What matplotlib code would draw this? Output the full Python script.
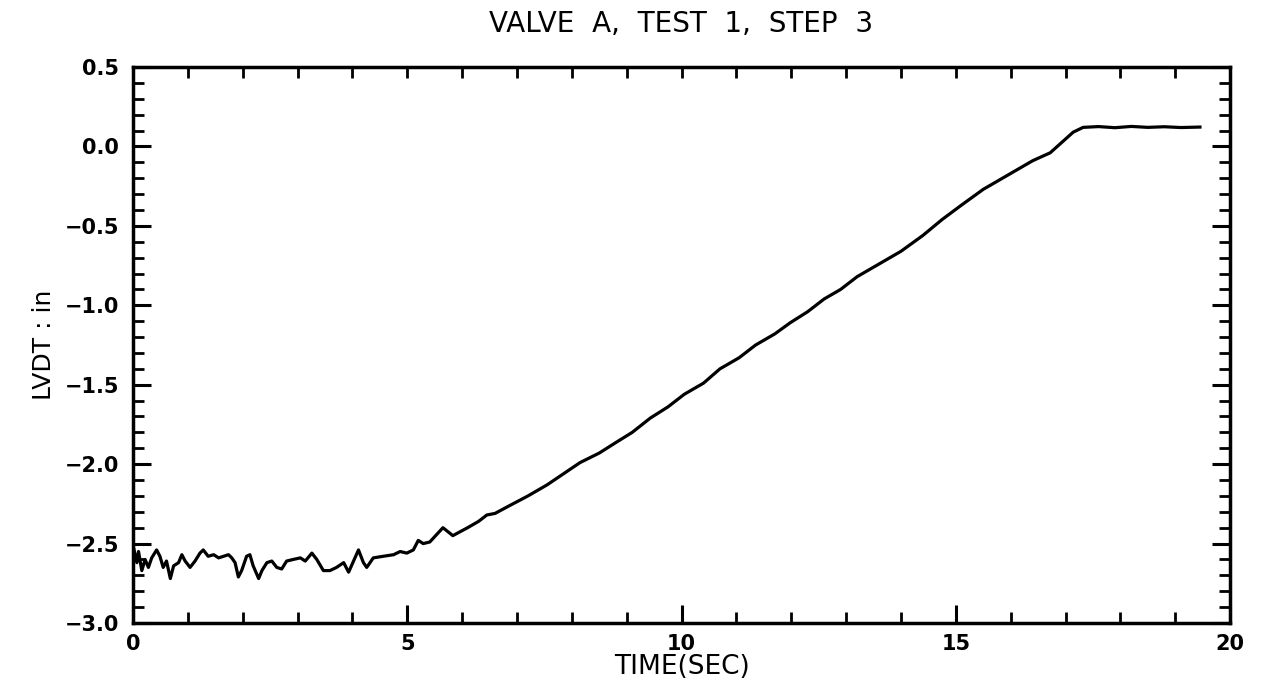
import matplotlib.pyplot as plt
import matplotlib.ticker as mticker

# LVDT trace: noisy baseline, ramp, then plateau
noise_time = [0.00, 0.07, 0.10, 0.16, 0.22, 0.28, 0.34, 0.43, 0.49, 0.55,
              0.61, 0.68, 0.74, 0.83, 0.89, 0.95, 1.04, 1.13, 1.22, 1.28,
              1.37, 1.47, 1.56, 1.65, 1.74, 1.80, 1.86, 1.92, 1.98, 2.07,
              2.13, 2.19, 2.29, 2.35, 2.44, 2.53, 2.62, 2.71, 2.80, 2.92,
              3.05, 3.14, 3.26, 3.35, 3.47, 3.59, 3.71, 3.84, 3.93, 4.02,
              4.11, 4.20, 4.26, 4.38, 4.56, 4.75, 4.87, 4.99, 5.11, 5.20,
              5.29, 5.41]
noise_lvdt = [-2.51, -2.62, -2.55, -2.67, -2.60, -2.65, -2.59, -2.54, -2.58, -2.65,
              -2.61, -2.72, -2.64, -2.62, -2.57, -2.61, -2.65, -2.61, -2.56, -2.54,
              -2.58, -2.57, -2.59, -2.58, -2.57, -2.59, -2.62, -2.71, -2.67, -2.58,
              -2.57, -2.64, -2.72, -2.67, -2.62, -2.61, -2.65, -2.66, -2.61, -2.60,
              -2.59, -2.61, -2.56, -2.60, -2.67, -2.67, -2.65, -2.62, -2.68, -2.61,
              -2.54, -2.62, -2.65, -2.59, -2.58, -2.57, -2.55, -2.56, -2.54, -2.48,
              -2.50, -2.49]

ramp_time = [5.65, 5.83, 6.10, 6.30, 6.45, 6.60, 6.87, 7.20, 7.55, 7.85,
             8.15, 8.50, 8.82, 9.10, 9.43, 9.75, 10.05, 10.40, 10.70, 11.05,
             11.35, 11.70, 11.98, 12.30, 12.60, 12.90, 13.20, 13.60, 14.00,
             14.40, 14.75, 15.10, 15.50, 15.80, 16.10, 16.40, 16.72, 17.14, 17.32]
ramp_lvdt = [-2.40, -2.45, -2.40, -2.36, -2.32, -2.31, -2.26, -2.20, -2.13, -2.06,
             -1.99, -1.93, -1.86, -1.80, -1.71, -1.64, -1.56, -1.49, -1.40, -1.33,
             -1.25, -1.18, -1.11, -1.04, -0.96, -0.90, -0.82, -0.74, -0.66,
             -0.56, -0.46, -0.37, -0.27, -0.21, -0.15, -0.09, -0.04, 0.09, 0.12]

flat_time = [17.60, 17.90, 18.20, 18.50, 18.80, 19.10, 19.45]
flat_lvdt = [0.125, 0.118, 0.126, 0.120, 0.124, 0.119, 0.122]

time = noise_time + ramp_time + flat_time
lvdt = noise_lvdt + ramp_lvdt + flat_lvdt

fig = plt.figure(figsize=(12.61, 6.93), dpi=100)
ax = fig.add_axes([0.1055, 0.101, 0.87, 0.8023])

ax.plot(time, lvdt, color='black', linewidth=2.3)

ax.set_xlim(0, 20)
ax.set_ylim(-3.0, 0.5)
ax.xaxis.set_major_locator(mticker.MultipleLocator(5))
ax.xaxis.set_minor_locator(mticker.MultipleLocator(1))
ax.yaxis.set_major_locator(mticker.MultipleLocator(0.5))
ax.yaxis.set_minor_locator(mticker.MultipleLocator(0.1))
ax.xaxis.remove_overlapping_locs = False
ax.xaxis.set_major_formatter(mticker.FormatStrFormatter('%d'))
ax.yaxis.set_major_formatter(
    mticker.FuncFormatter(lambda v, p: f'{v:.1f}'.replace('-', '\u2212')))

for side in ax.spines.values():
    side.set_linewidth(2.5)

ax.tick_params(which='major', direction='in', length=13, width=2.2,
               left=True, right=True, bottom=True, top=False,
               labelsize=15, pad=8)
ax.tick_params(which='minor', direction='in', length=8, width=2.0,
               left=True, right=True, bottom=True, top=True)
ax.tick_params(axis='y', which='major', pad=10)
for lab in ax.get_xticklabels() + ax.get_yticklabels():
    lab.set_fontweight('bold')

ax.set_xlabel('TIME(SEC)', fontsize=19, labelpad=0)
ax.set_ylabel('LVDT : in', fontsize=18, labelpad=6)
fig.text(0.54, 0.966, 'VALVE  A,  TEST  1,  STEP  3', fontsize=20,
         ha='center', va='center')

fig.savefig('out.png', dpi=100)
